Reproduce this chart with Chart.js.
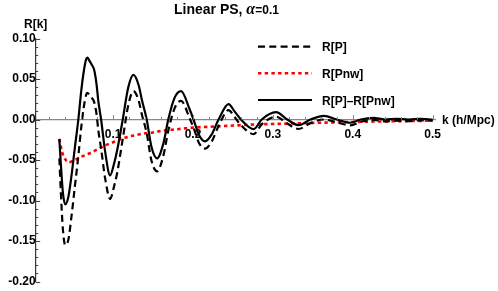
<!DOCTYPE html>
<html><head><meta charset="utf-8">
<script src="https://cdn.jsdelivr.net/npm/chart.js@4/dist/chart.umd.min.js"></script>
<style>html,body{margin:0;padding:0;background:#fff}#c{display:block}</style>
</head><body>
<canvas id="c" width="498" height="291"></canvas>
<script>
// k values (h/Mpc) for the two black curves
const kBlack = [0.0326,0.0345,0.0370,0.0400,0.0440,0.0480,0.0520,0.0564,0.0600,0.0630,0.0660,0.0677,0.0700,0.0730,0.0760,0.0790,0.0815,0.0849,0.0900,0.0962,0.1010,0.1050,0.1120,0.1190,0.1254,0.1320,0.1360,0.1420,0.1480,0.1550,0.1630,0.1690,0.1770,0.1850,0.1960,0.2006,0.2080,0.2150,0.2230,0.2320,0.2445,0.2520,0.2600,0.2760,0.2860,0.3040,0.3180,0.3320,0.3470,0.3640,0.3800,0.3970,0.4100,0.4260,0.4400,0.4550,0.4700,0.4850,0.5000];
// R[P]-R[Pnw] (solid)
const rDiff = [-0.024,-0.055,-0.090,-0.1047,-0.095,-0.068,-0.035,0.000,0.035,0.058,0.074,0.0765,0.073,0.068,0.062,0.045,0.022,0.000,-0.040,-0.069,-0.055,-0.038,0.000,0.040,0.055,0.042,0.024,0.000,-0.034,-0.048,-0.029,0.000,0.027,0.035,0.012,0.000,-0.020,-0.027,-0.019,0.000,0.019,0.010,0.000,-0.012,0.000,0.009,0.000,-0.007,0.000,0.0045,0.000,-0.004,0.000,0.002,0.000,0.0008,0.000,0.0008,0.000];
// R[P] (dashed)
const rP = [-0.048,-0.090,-0.135,-0.155,-0.148,-0.118,-0.083,-0.045,-0.010,0.014,0.030,0.033,0.031,0.027,0.022,0.008,-0.014,-0.036,-0.073,-0.098,-0.083,-0.066,-0.024,0.018,0.035,0.023,0.006,-0.017,-0.051,-0.064,-0.044,-0.014,0.014,0.023,0.001,-0.010,-0.030,-0.036,-0.028,-0.008,0.0115,0.003,-0.007,-0.018,-0.006,0.0035,-0.005,-0.0117,-0.0045,0.000,-0.0035,-0.0072,-0.0028,-0.0004,-0.0022,-0.0015,-0.002,-0.001,-0.0015];
// R[Pnw] (red dotted)
const kRed = [0.0326,0.036,0.040,0.044,0.050,0.060,0.070,0.080,0.090,0.100,0.110,0.120,0.130,0.140,0.150,0.160,0.180,0.200,0.220,0.250,0.280,0.300,0.330,0.360,0.400,0.450,0.500];
const rPnw = [-0.024,-0.040,-0.049,-0.053,-0.051,-0.046,-0.042,-0.037,-0.032,-0.028,-0.024,-0.021,-0.019,-0.017,-0.016,-0.014,-0.012,-0.010,-0.009,-0.0075,-0.006,-0.0055,-0.0047,-0.004,-0.003,-0.0022,-0.0015];
// axis ticks
const xTicks = [0.1,0.2,0.3,0.4,0.5];
const yTicks = [-0.20,-0.15,-0.10,-0.05,0.00,0.05,0.10];
const seriesNames = ['R[P]','R[Pnw]','R[P]\u2013R[Pnw]'];

const pts = (ks, vs) => ks.map((k,i)=>({x:k,y:vs[i]}));
const FONT = '"Liberation Sans", Arial, sans-serif';
Chart.defaults.font.family = FONT;
Chart.defaults.font.size = 12;
Chart.defaults.font.weight = 'bold';
Chart.defaults.color = '#000';

const styles = [
  {color:'#000', width:2.2, dash:[7,4.3]},
  {color:'#ff0000', width:2.6, dash:[3.4,3.3]},
  {color:'#000', width:2.2, dash:[]}
];

const noPad = s => { s.paddingTop = 0; s.paddingBottom = 0; s.paddingLeft = 0; s.paddingRight = 0; };

const deco = {
  id:'deco',
  afterDraw(chart){
    const ctx = chart.ctx, xs = chart.scales.x, ys = chart.scales.y;
    const x0 = xs.getPixelForValue(0.003), y0 = ys.getPixelForValue(0);
    ctx.save();
    // x ticks (pointing up), minor every 0.02
    ctx.strokeStyle = '#888'; ctx.lineWidth = 1;
    for (let i=1;i<=25;i++){
      const v = i*0.02; const px = Math.round(xs.getPixelForValue(v))+0.5;
      const len = (i%5===0)?4.5:2.5;
      ctx.beginPath(); ctx.moveTo(px,y0); ctx.lineTo(px,y0-len); ctx.stroke();
    }
    // y ticks (pointing right), minor every 0.01
    ctx.strokeStyle = '#444';
    for (let i=-20;i<=10;i++){
      const v = i*0.01; const py = Math.round(ys.getPixelForValue(v))+0.5;
      const len = (i%5===0)?4.5:2.5;
      ctx.beginPath(); ctx.moveTo(x0,py); ctx.lineTo(x0+len,py); ctx.stroke();
    }
    // title
    ctx.fillStyle='#000'; ctx.textBaseline='alphabetic'; ctx.textAlign='left';
    ctx.font = 'bold 14px '+FONT;
    let tx = 174; ctx.fillText('Linear PS, ', tx, 14);
    tx += ctx.measureText('Linear PS, ').width;
    ctx.font = 'italic bold 16px "Liberation Serif", "Times New Roman", serif';
    ctx.fillText('\u03b1', tx, 14);
    tx += ctx.measureText('\u03b1').width;
    ctx.font = 'bold 12px '+FONT;
    ctx.fillText('=0.1', tx, 14);
    // axis labels
    ctx.font = 'bold 12px '+FONT;
    ctx.fillText('R[k]', 24, 28);
    ctx.fillText('k (h/Mpc)', 442, 124);
    // legend
    const rows = [46.7, 73.3, 100];
    for (let i=0;i<3;i++){
      const s = styles[i];
      ctx.strokeStyle = s.color; ctx.lineWidth = s.width; ctx.setLineDash(s.dash);
      ctx.beginPath(); ctx.moveTo(258, rows[i]); ctx.lineTo(312, rows[i]); ctx.stroke();
      ctx.setLineDash([]);
      ctx.fillStyle = '#000';
      ctx.fillText(seriesNames[i], 322, rows[i]+4.5);
    }
    ctx.restore();
  }
};

new Chart(document.getElementById('c'), {
  type:'scatter',
  data:{datasets:[
    {label:seriesNames[2], data:pts(kBlack,rDiff), showLine:true, borderColor:styles[2].color, borderWidth:styles[2].width, borderDash:styles[2].dash, pointRadius:0, cubicInterpolationMode:'monotone', fill:false},
    {label:seriesNames[0], data:pts(kBlack,rP), showLine:true, borderColor:styles[0].color, borderWidth:styles[0].width, borderDash:styles[0].dash, pointRadius:0, cubicInterpolationMode:'monotone', fill:false},
    {label:seriesNames[1], data:pts(kRed,rPnw), showLine:true, borderColor:styles[1].color, borderWidth:styles[1].width, borderDash:styles[1].dash, pointRadius:0, cubicInterpolationMode:'monotone', fill:false}
  ]},
  options:{
    responsive:false, animation:false,
    layout:{padding:{left:35.7, right:63, top:38.5, bottom:9.5}},
    plugins:{legend:{display:false}, tooltip:{enabled:false}, title:{display:false}},
    scales:{
      x:{type:'linear', min:0.003, max:0.503, position:{y:0},
         afterBuildTicks:s=>{s.ticks = xTicks.map(v=>({value:v}));},
         afterFit:noPad,
         ticks:{padding:0, maxRotation:0, autoSkip:false, callback:v=>v.toFixed(1), font:{size:12, weight:'bold'}, color:'#000'},
         grid:{display:false}, border:{display:true, color:'#888', width:1.2}},
      y:{type:'linear', min:-0.2, max:0.1, position:{x:0.003},
         afterBuildTicks:s=>{s.ticks = yTicks.map(v=>({value:v}));},
         afterFit:noPad,
         ticks:{padding:5, autoSkip:false, callback:v=>v.toFixed(2), font:{size:12, weight:'bold'}, color:'#000'},
         grid:{display:false}, border:{display:true, color:'#333', width:1.2}}
    }
  },
  plugins:[deco]
});
</script>
</body></html>
